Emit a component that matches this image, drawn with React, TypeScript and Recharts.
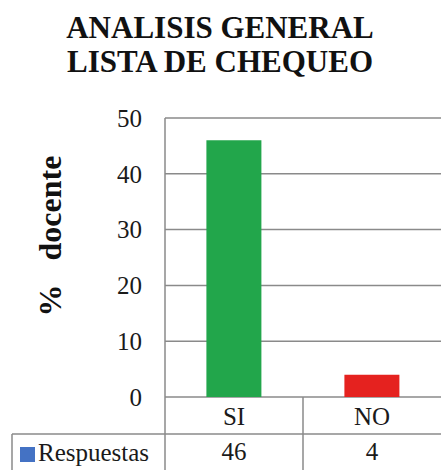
import React from 'react';
import { BarChart, Bar, XAxis, YAxis, CartesianGrid, Cell, Customized } from 'recharts';

const categories = ['SI', 'NO'];
const respuestas = [46, 4];
const barColors = ['#22a64b', '#e5221f'];
const yTicks = [0, 10, 20, 30, 40, 50];
const seriesName = 'Respuestas';
const titleLines = ['ANALISIS GENERAL', 'LISTA DE CHEQUEO'];
const yLabel = '%   docente';

const data = categories.map((c, i) => ({ name: c, value: respuestas[i] }));

const W = 441;
const H = 470;
const Y_W = 60;
const PLOT_LEFT = 165;
const GRID = '#8a8a8a';
const FONT = "'Liberation Serif', 'Times New Roman', serif";
const BAND = (W - PLOT_LEFT) / categories.length;
const txt = { fontFamily: FONT, fill: '#1a1a1a' };

function TableTick({ x, y, payload }: any) {
  const i = payload.index;
  const left = x - BAND / 2;
  return (
    <g>
      <line x1={left} y1={y} x2={left} y2={H} stroke={GRID} strokeWidth={1.5} />
      <text x={x} y={y + 28} textAnchor='middle' fontSize={25} style={txt}>
        {payload.value}
      </text>
      <text x={x} y={y + 63} textAnchor='middle' fontSize={25} style={txt}>
        {respuestas[i]}
      </text>
    </g>
  );
}

function ValueTick({ x, y, payload }: any) {
  return (
    <text x={x} y={y} dy='0.35em' textAnchor='end' fontSize={25} style={txt}>
      {payload.value}
    </text>
  );
}

function Overlay() {
  return (
    <g>
      {titleLines.map((t, i) => (
        <text
          key={t}
          x={220}
          y={38 + i * 34}
          textAnchor='middle'
          fontSize={31}
          fontWeight='bold'
          style={{ fontFamily: FONT, fill: '#111' }}
        >
          {t}
        </text>
      ))}
      <text
        x={50}
        y={236}
        transform='rotate(-90, 50, 236)'
        textAnchor='middle'
        dominantBaseline='central'
        fontSize={32}
        fontWeight='bold'
        style={{ fontFamily: FONT, fill: '#111', whiteSpace: 'pre' }}
      >
        {yLabel}
      </text>
      {/* table: series row */}
      <line x1={12} y1={434} x2={W} y2={434} stroke={GRID} strokeWidth={1.5} />
      <line x1={12} y1={434} x2={12} y2={H} stroke={GRID} strokeWidth={1.5} />
      <rect x={20} y={447} width={15} height={15} fill='#4472c4' />
      <text x={38} y={461} fontSize={25} style={txt}>
        {seriesName}
      </text>
    </g>
  );
}

export default function App() {
  return (
    <div style={{ position: 'absolute', left: 0, top: 0, background: '#fff' }}>
      <BarChart
        width={W}
        height={H}
        data={data}
        margin={{ top: 118, right: 0, bottom: 0, left: PLOT_LEFT - Y_W }}
        barCategoryGap='30%'
      >
        <CartesianGrid vertical={false} stroke={GRID} strokeWidth={1.5} />
        <XAxis
          dataKey='name'
          height={73}
          axisLine={false}
          tickLine={false}
          tickSize={0}
          tickMargin={0}
          interval={0}
          tick={<TableTick />}
        />
        <YAxis
          width={Y_W}
          domain={[0, 50]}
          ticks={yTicks}
          axisLine={{ stroke: GRID, strokeWidth: 1.5 }}
          tickLine={false}
          tickSize={0}
          tickMargin={23}
          tick={<ValueTick />}
        />
        <Bar dataKey='value' isAnimationActive={false}>
          {data.map((d, i) => (
            <Cell key={d.name} fill={barColors[i]} />
          ))}
        </Bar>
        <Customized component={Overlay} />
      </BarChart>
    </div>
  );
}
